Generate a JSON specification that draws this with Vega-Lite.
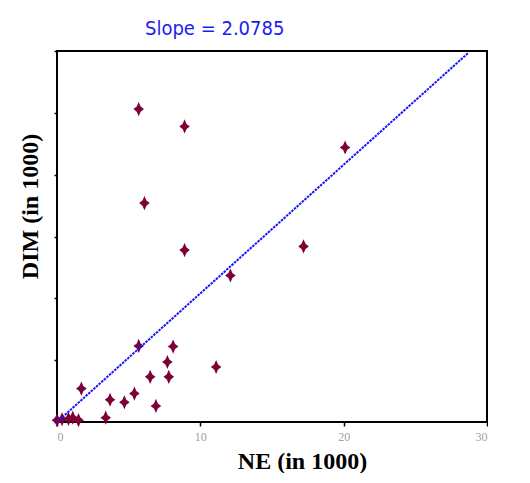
{
  "$schema": "https://vega.github.io/schema/vega-lite/v6.json",
  "width": 430,
  "height": 371,
  "padding": {"left": 18, "top": 18, "right": 0, "bottom": 0},
  "background": "white",
  "title": {
    "text": "Slope = 2.0785",
    "color": "#1c1cf0",
    "font": "Liberation Sans Narrow, DejaVu Sans Condensed, sans-serif",
    "fontSize": 20,
    "fontWeight": "normal",
    "anchor": "start",
    "frame": "group",
    "dx": 88,
    "offset": 10
  },
  "config": {
    "view": {"stroke": "black", "strokeWidth": 2},
    "axis": {"grid": false, "domain": false}
  },
  "datasets": {
    "pts": [
      {"NE": 5.7, "DIM": 50.6},
      {"NE": 8.9, "DIM": 47.8},
      {"NE": 20.1, "DIM": 44.4},
      {"NE": 6.1, "DIM": 35.4},
      {"NE": 8.9, "DIM": 27.8},
      {"NE": 17.2, "DIM": 28.4},
      {"NE": 12.1, "DIM": 23.7},
      {"NE": 5.7, "DIM": 12.3},
      {"NE": 8.1, "DIM": 12.2},
      {"NE": 7.7, "DIM": 9.7},
      {"NE": 11.1, "DIM": 8.9},
      {"NE": 6.5, "DIM": 7.3},
      {"NE": 7.8, "DIM": 7.3},
      {"NE": 1.7, "DIM": 5.4},
      {"NE": 5.4, "DIM": 4.6},
      {"NE": 3.7, "DIM": 3.6},
      {"NE": 4.7, "DIM": 3.2},
      {"NE": 6.9, "DIM": 2.6},
      {"NE": 3.4, "DIM": 0.7},
      {"NE": 0.0, "DIM": 0.3},
      {"NE": 0.35, "DIM": 0.45},
      {"NE": 0.8, "DIM": 0.5},
      {"NE": 1.1, "DIM": 0.7},
      {"NE": 1.5, "DIM": 0.3}
    ],
    "fit": [
      {"NE": 0, "DIM": 0},
      {"NE": 28.7, "DIM": 59.7}
    ]
  },
  "encoding": {
    "x": {
      "field": "NE",
      "type": "quantitative",
      "scale": {"domain": [0, 30], "nice": false, "zero": true},
      "axis": {
        "title": "NE (in 1000)",
        "values": [0, 10, 20, 30],
        "tickSize": 4,
        "tickColor": "black",
        "tickWidth": 1.5,
        "labelFont": "Liberation Serif",
        "labelFontSize": 12,
        "labelColor": "#a0a0a0",
        "labelPadding": 5,
        "titleFont": "Liberation Serif",
        "titleFontSize": 24,
        "titleFontWeight": "bold",
        "titleColor": "black",
        "titlePadding": 7,
        "titleX": 245
      }
    },
    "y": {
      "field": "DIM",
      "type": "quantitative",
      "scale": {"domain": [0, 60], "nice": false, "zero": true},
      "axis": {
        "title": "DIM (in 1000)",
        "values": [0, 10, 20, 30, 40, 50, 60],
        "labels": false,
        "tickSize": 3,
        "tickColor": "black",
        "tickWidth": 1.5,
        "titleFont": "Liberation Serif",
        "titleFontSize": 24,
        "titleFontWeight": "bold",
        "titleColor": "black",
        "titlePadding": 11,
        "titleY": 155
      }
    }
  },
  "layer": [
    {
      "data": {"name": "pts"},
      "mark": {
        "type": "point",
        "shape": "M0,-1 L0.28,-0.36 L0.75,0 L0.28,0.36 L0,1 L-0.28,0.36 L-0.75,0 L-0.28,-0.36 Z",
        "filled": true,
        "size": 200,
        "color": "#7d0036",
        "opacity": 1,
        "clip": false
      }
    },
    {
      "data": {"name": "fit"},
      "mark": {
        "type": "line",
        "color": "#1414ff",
        "strokeWidth": 2,
        "strokeDash": [2.5, 1]
      }
    }
  ]
}
